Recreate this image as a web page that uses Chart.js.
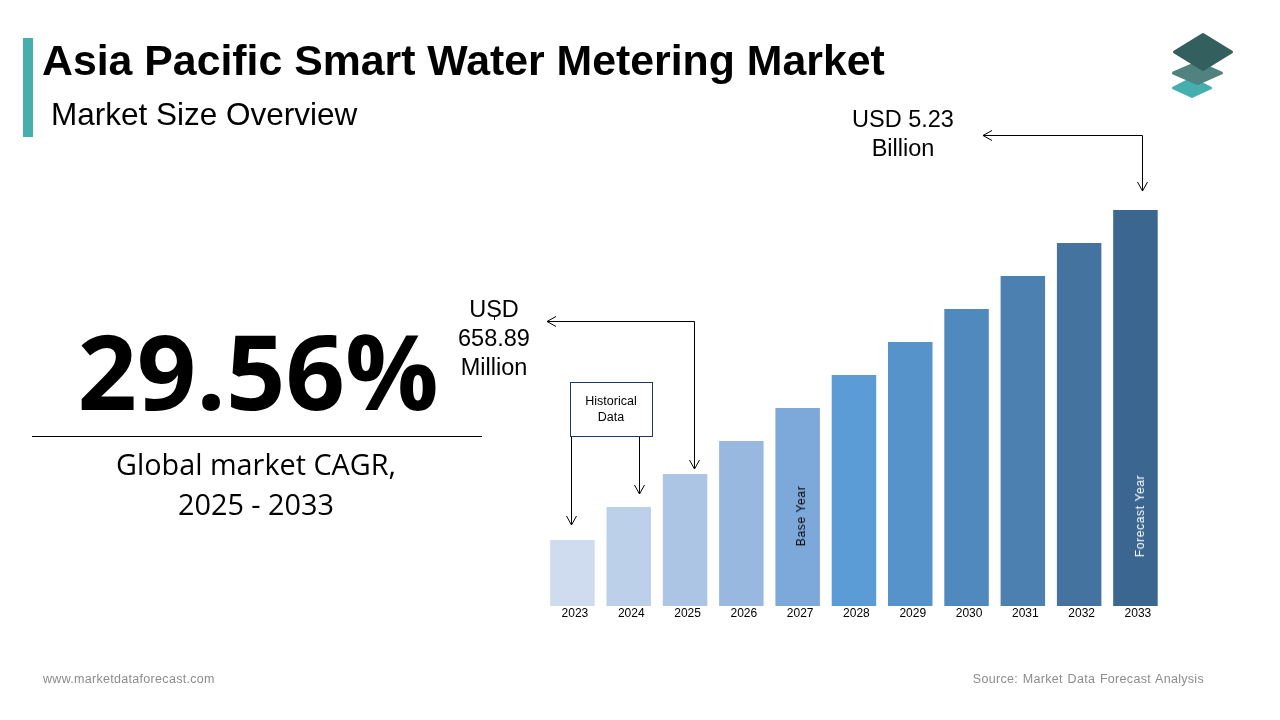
<!DOCTYPE html>
<html lang="en">
<head>
<meta charset="UTF-8">
<title>Asia Pacific Smart Water Metering Market</title>
<script src="https://cdn.jsdelivr.net/npm/chart.js"></script>
<style>
    html, body { margin: 0; padding: 0; background: #fff; }
    body { width: 1280px; height: 720px; position: relative; overflow: hidden; font-family: "Liberation Sans", Arial, sans-serif; color: #000; }
    canvas { position: absolute; left: 0; top: 0; }
    svg { position: absolute; left: 0; top: 0; pointer-events: none; }
    .txt { position: absolute; white-space: nowrap; }
    .center { text-align: center; transform: translateX(-50%); }
    .accent { position: absolute; left: 23px; top: 38px; width: 10px; height: 99px; background: #46AFAD; }
    .title { left: 42px; top: 36px; font-size: 42.8px; line-height: 48px; font-weight: bold; }
    .subtitle { left: 51px; top: 95px; font-size: 31.5px; line-height: 38px; }
    .cagr { left: 258px; top: 300px; font-family: "Open Sans", sans-serif; font-weight: 700; font-size: 104px; line-height: 140px; }
    .cagr-note { left: 256px; top: 444px; font-family: "Open Sans", sans-serif; font-size: 28.8px; line-height: 40px; }
    .callout { font-size: 23.5px; line-height: 29px; }
    .hist { left: 611px; top: 393px; font-size: 12.5px; line-height: 16px; }
    .vert { font-size: 12px; letter-spacing: 0.65px; transform: translate(-50%, -50%) rotate(-90deg); }
    .foot { font-size: 12.5px; color: #8c8c8c; letter-spacing: 0.3px; }
</style>
</head>
<body>
<canvas id="marketChart" width="1280" height="720"></canvas>

<div class="accent"></div>
<div class="txt title">Asia Pacific Smart Water Metering Market</div>
<div class="txt subtitle">Market Size Overview</div>

<div class="txt center cagr">29.56%</div>
<div class="txt center cagr-note">Global market CAGR,<br>2025 - 2033</div>

<div class="txt center callout" style="left:903px;top:105px">USD 5.23<br>Billion</div>
<div class="txt center callout" style="left:494px;top:295px">USD<br>658.89<br>Million</div>
<div class="txt center hist">Historical<br>Data</div>

<div class="txt vert" style="left:800.5px;top:516px">Base Year</div>
<div class="txt vert" style="left:1140px;top:515.5px;color:#fff">Forecast Year</div>

<div class="txt foot" style="left:43px;top:672px">www.marketdataforecast.com</div>
<div class="txt foot" style="right:76px;top:672px;word-spacing:1px">Source: Market Data Forecast Analysis</div>

<svg width="1280" height="720" fill="none" stroke="#000" stroke-width="1">
    <!-- divider -->
    <path d="M32 436.5H482"/>
    <!-- historical box -->
    <rect x="570.5" y="382.5" width="82" height="54" stroke="#1F3864"/>
    <!-- callout arrows -->
    <path d="M983 135.5H1142.5V191"/>
    <path d="M992 130.5L983 135.5L992 140.5M1137.5 182L1142.5 191L1147.5 182"/>
    <path d="M547 321.5H694.5V469"/>
    <path d="M556 316.5L547 321.5L556 326.5M689.5 460L694.5 469L699.5 460"/>
    <path d="M571.5 437V525M566.5 516L571.5 525L576.5 516"/>
    <path d="M639.5 437V494M634.5 485L639.5 494L644.5 485"/>
    <path d="M494.5 316V320"/>
    <!-- logo -->
    <g stroke-width="3" stroke-linejoin="round">
        <path d="M1192 78.5L1210.5 88L1192 96.5L1173.5 88Z" fill="#46AFAD" stroke="#46AFAD"/>
        <path d="M1198 62.5L1221.5 73L1198 83.5L1173.5 73Z" fill="#50827F" stroke="#50827F"/>
        <path d="M1203 34.5L1231.5 52L1203 69.5L1174.5 52Z" fill="#33605F" stroke="#33605F"/>
    </g>
</svg>

<script>
    const years = ['2023', '2024', '2025', '2026', '2027', '2028', '2029', '2030', '2031', '2032', '2033'];
    // bar heights as drawn in the picture (relative, the bars are not to scale with the callouts)
    const barHeights = [1, 1.5, 2, 2.5, 3, 3.5, 4, 4.5, 5, 5.5, 6];
    const barColors = ['#CFDBEE', '#BCD0EA', '#ADC5E4', '#98B8DF', '#7DA8DA', '#5B9BD6', '#5693CB', '#5089BD', '#4C80B0', '#4473A0', '#3A6690'];

    new Chart(document.getElementById('marketChart'), {
        type: 'bar',
        data: {
            labels: years,
            datasets: [{
                data: barHeights,
                backgroundColor: barColors,
                barPercentage: 0.79,
                categoryPercentage: 1
            }]
        },
        options: {
            responsive: false,
            animation: false,
            layout: { padding: { left: 544.3, right: 116.4, top: 210, bottom: 94 } },
            plugins: { legend: { display: false }, tooltip: { enabled: false } },
            scales: {
                x: {
                    grid: { display: false, drawTicks: false },
                    border: { display: false },
                    afterFit: scale => { scale.height = 20; },
                    ticks: {
                        color: '#000',
                        font: { family: '"Liberation Sans", Arial, sans-serif', size: 12 },
                        padding: 0,
                        labelOffset: 2.5,
                        maxRotation: 0,
                        autoSkip: false
                    }
                },
                y: { display: false, min: 0, max: 6 }
            }
        }
    });
</script>
</body>
</html>
